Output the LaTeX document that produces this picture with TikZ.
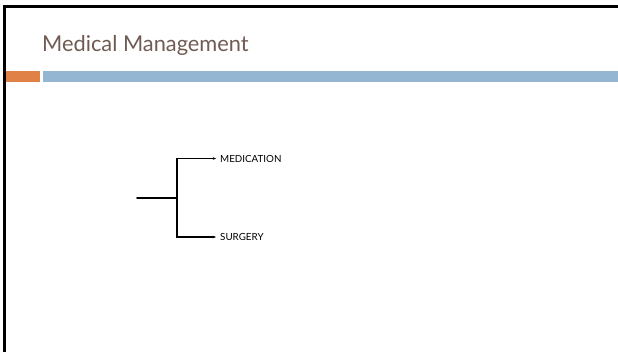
\documentclass[tikz,border=0pt]{standalone}
\usepackage{fontspec}
\setmainfont{Lato}
\usetikzlibrary{arrows.meta,positioning}
\definecolor{titlecolor}{RGB}{111,91,82}
\definecolor{accentorange}{RGB}{224,130,72}
\definecolor{barblue}{RGB}{148,182,210}
\tikzset{
  % slide frame, only top and left edges show
  frameln/.style={line width=3pt, black},
  % slide title
  titletxt/.style={anchor=base west, inner sep=0pt,
    font=\fontsize{21.8}{26}\selectfont, text=titlecolor},
  % the tree: thick stem, thinner arrowed branches
  stemln/.style={line width=1.8pt, line cap=round},
  branchln/.style={-{Stealth[length=3.2pt,width=2.6pt]}, line width=1.1pt},
  leaftxt/.style={anchor=west, inner sep=0pt, font=\fontsize{9.8}{11}\selectfont},
}

\begin{document}
\begin{tikzpicture}[x=1pt, y=-1pt]
    \useasboundingbox (0,0) rectangle (618,352);
    % --- frame and header bar ---
    \draw[frameln] (4.5,352) |- (618,6.5);
    \fill[accentorange] (6,71) rectangle (40,82.5);
    \fill[barblue] (42.7,71) rectangle (618,82.5);
    \node[titletxt] (title) at (42,52) {Medical Management};
    % --- tree ---
    \coordinate (root) at (137,198);
    \coordinate (fork) at (177,198);
    \node[leaftxt] (med) at (220,158.5) {MEDICATION};
    \node[leaftxt] (surg) at (220,237) {SURGERY};
    \draw[stemln] (root) -- (fork);
    \draw[branchln] (fork) |- ([xshift=-4pt]med.west);
    \draw[branchln] (fork) |- ([xshift=-4pt]surg.west);
\end{tikzpicture}
\end{document}
